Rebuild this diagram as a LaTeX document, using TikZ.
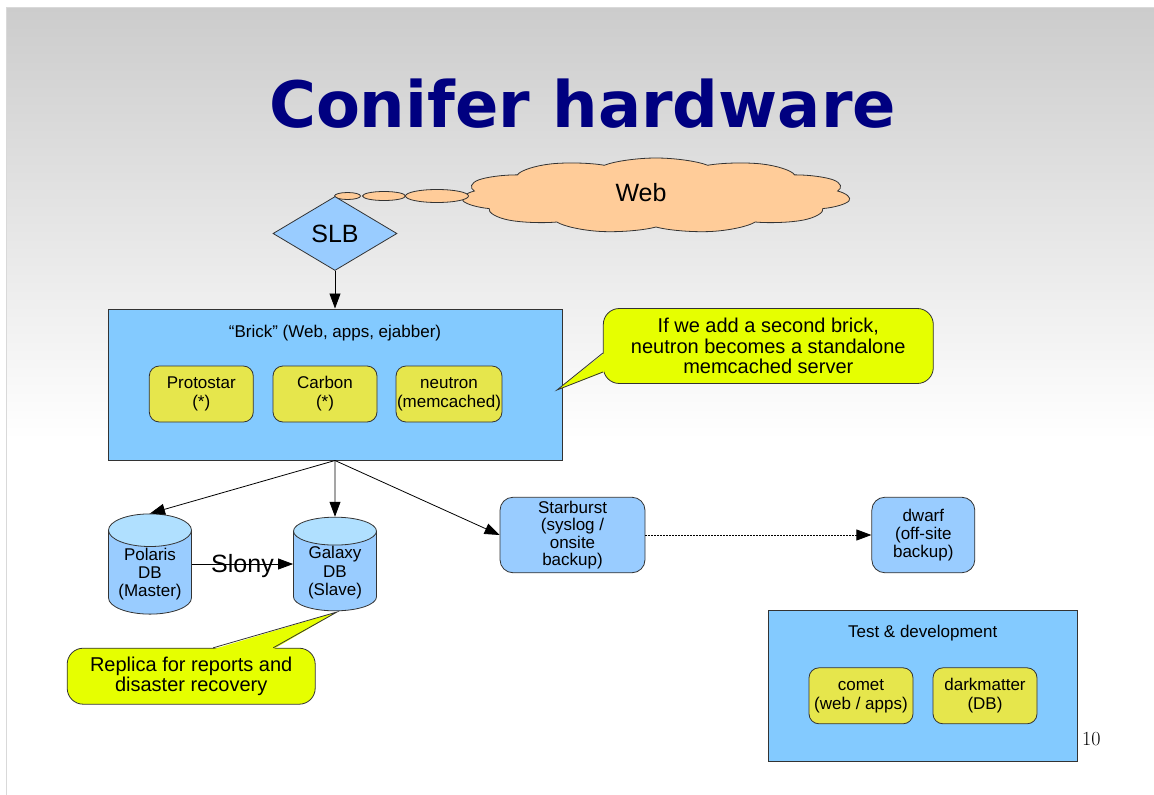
\documentclass[tikz,border=0pt]{standalone}
\usepackage{fontspec}
\setsansfont{Liberation Sans}
\newfontfamily\fuenteTitulo{DejaVu Sans}
\renewcommand{\familydefault}{\sfdefault}
\usetikzlibrary{shapes.geometric,shapes.symbols,arrows.meta}

\definecolor{azulCaja}{HTML}{83CAFF}
\definecolor{azulNodo}{HTML}{99CCFF}
\definecolor{azulTapa}{HTML}{B0E0FF}
\definecolor{amarilloServidor}{HTML}{E6E64C}
\definecolor{amarilloGlobo}{HTML}{E6FF00}
\definecolor{naranjaNube}{HTML}{FFCC99}
\definecolor{azulTitulo}{HTML}{000080}
\definecolor{borde}{HTML}{333333}

\begin{document}
\begin{tikzpicture}[x=1pt,y=-1pt]
    \tikzset{caja/.style = {shape=rectangle,draw=borde,fill=azulCaja,line width=1pt}}
    \tikzset{servidor/.style = {shape=rectangle,rounded corners=10pt,draw=borde,fill=amarilloServidor,line width=0.8pt,minimum width=104pt,minimum height=56pt,inner sep=1pt,align=center,font=\fontsize{17}{19}\selectfont}}
    \tikzset{nodoAzul/.style = {shape=rectangle,rounded corners=13pt,draw=borde,fill=azulNodo,line width=0.8pt,minimum height=75.5pt,inner sep=1pt,align=center,font=\fontsize{17}{17.6}\selectfont}}
    \tikzset{baseDatos/.style = {shape=cylinder,shape border rotate=90,anchor=shape center,draw=borde,line width=0.8pt,aspect=0.5,cylinder uses custom fill,cylinder body fill=azulNodo,cylinder end fill=azulTapa,minimum width=83pt,minimum height=90pt,inner sep=1pt,align=center,font=\fontsize{17}{18.3}\selectfont}}
    \tikzset{globo/.style = {shape=rectangle,rounded corners=16pt,draw=borde,fill=amarilloGlobo,line width=0.8pt,align=center,font=\fontsize{20}{20.5}\selectfont}}
    \tikzset{titulo/.style = {anchor=base,inner sep=0pt,font=\fontsize{17}{19}\selectfont}}

    \tikzset{myCloud/.style = {shape=cloud,draw=borde,fill=naranjaNube,line width=0.8pt,cloud puffs=11,cloud puff arc=115,cloud ignores aspect,minimum width=100pt,minimum height=75pt,inner sep=0pt}}
    \tikzset{burbuja/.style = {shape=ellipse,draw=borde,fill=naranjaNube,line width=0.8pt,inner sep=0pt}}

    \tikzset{flecha/.style = {-{Triangle[length=15pt,width=11pt]},black,line width=0.8pt}}

    \useasboundingbox (0,0) rectangle (1154,795);
    \shade[top color=black!20,bottom color=white] (6,7) rectangle (1154,440);
    \draw[black!15,line width=1pt] (6,795) -- (6,7) -- (1154,7);

    \node[anchor=base,inner sep=0pt,text=azulTitulo,font=\fuenteTitulo\bfseries\fontsize{64}{70}\selectfont] (tituloSlide) at (582.5,127) {Conifer hardware};

    \begin{scope}[shift={(656,195.5)},xscale=3.9]
        \node[myCloud,transform shape] (nube) at (0,0) {};
    \end{scope}
    \node[inner sep=0pt,font=\fontsize{25}{25}\selectfont] (webTexto) at (641,193) {Web};
    \node[burbuja,minimum width=26pt,minimum height=7pt] (burbuja1) at (347.5,196) {};
    \node[burbuja,minimum width=43pt,minimum height=9pt] (burbuja2) at (384,196) {};
    \node[burbuja,minimum width=63pt,minimum height=13pt] (burbuja3) at (437,196) {};

    \node[shape=diamond,draw=borde,fill=azulNodo,line width=0.8pt,minimum width=124pt,minimum height=74pt,inner sep=0pt,font=\fontsize{25}{25}\selectfont] (slb) at (335,233.5) {SLB};

    \node[caja,minimum width=454pt,minimum height=151pt] (brick) at (335,384.5) {};
    \node[titulo] (brickTitulo) at (335,337) {“Brick” (Web, apps, ejabber)};
    \node[servidor] (protostar) at (201.3,394) {Protostar\\(*)};
    \node[servidor] (carbon) at (325,394) {Carbon\\(*)};
    \node[servidor] (neutron) at (449,394) {neutron\\(memcached)};

    \node[globo,minimum width=330pt,minimum height=75pt] (aviso) at (768.3,346) {If we add a second brick,\\neutron becomes a standalone\\memcached server};
    \coordinate (avisoPunta) at (557,390);
    \coordinate (avisoA) at ([yshift=-7pt]aviso.west);
    \coordinate (avisoB) at ([yshift=-26pt]aviso.west);
    \fill[amarilloGlobo] ([xshift=1.5pt]avisoA) -- (avisoPunta) -- ([xshift=1.5pt]avisoB) -- cycle;
    \draw[borde,line width=0.8pt] (avisoA) -- (avisoPunta) -- (avisoB);

    \node[baseDatos] (polaris) at (150,564) {Polaris\\DB\\(Master)};
    \node[baseDatos] (galaxy) at (335,564) {Galaxy\\DB\\(Slave)};

    \node[nodoAzul,minimum width=145pt] (starburst) at (572.5,535) {Starburst\\(syslog /\\onsite\\backup)};
    \node[nodoAzul,minimum width=103pt] (dwarf) at (923.3,535) {dwarf\\(off-site\\backup)};

    \node[globo,minimum width=248pt,minimum height=56pt] (replica) at (191.2,676.2) {Replica for reports and\\disaster recovery};
    \coordinate (replicaPunta) at (337,612);
    \coordinate (replicaA) at ([xshift=22pt]replica.north);
    \coordinate (replicaB) at ([xshift=82pt]replica.north);
    \fill[amarilloGlobo] ([yshift=-1.5pt]replicaA) -- (replicaPunta) -- ([yshift=-1.5pt]replicaB) -- cycle;
    \draw[borde,line width=0.8pt] (replicaA) -- (replicaPunta) -- (replicaB);

    \node[caja,minimum width=309pt,minimum height=151pt] (test) at (922.8,686.2) {};
    \node[titulo] (testTitulo) at (922.7,637.7) {Test \& development};
    \node[servidor] (comet) at (861,695.8) {comet\\(web / apps)};
    \node[servidor] (darkmatter) at (985,695.8) {darkmatter\\(DB)};

    \node[anchor=base west,inner sep=0pt,font=\rmfamily\fontsize{20}{20}\selectfont] (pagina) at (1082,745) {10};

    \draw [flecha] (slb.south) -- (brick.north);
    \draw [flecha] (brick.south) -- (polaris.north);
    \draw [flecha] (brick.south) -- (galaxy.north);
    \draw [flecha] (brick.south) -- (starburst.west);
    \draw [flecha] (polaris.shape center -| polaris.east) -- node[inner sep=0pt,yshift=-2pt,font=\fontsize{25}{25}\selectfont] {Slony} (galaxy.shape center -| galaxy.west);
    \draw [flecha,dash pattern=on 1.5pt off 1.5pt] (starburst.east) -- (dwarf.west);
\end{tikzpicture}
\end{document}
